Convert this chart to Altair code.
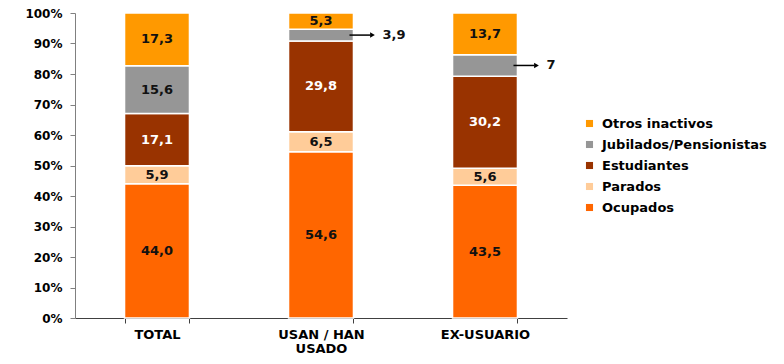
import altair as alt
import pandas as pd

categories = ["TOTAL", "USAN / HAN USADO", "EX-USUARIO"]
series = ["Ocupados", "Parados", "Estudiantes", "Jubilados/Pensionistas", "Otros inactivos"]
colors = ["#FF6600", "#FFCC99", "#993300", "#969696", "#FF9900"]

ocupados = [44.0, 54.6, 43.5]
parados = [5.9, 6.5, 5.6]
estudiantes = [17.1, 29.8, 30.2]
jubilados = [15.6, 3.9, 7]
otros = [17.3, 5.3, 13.7]
jubilados_outside = [False, True, True]
y_ticks = [0, 0.1, 0.2, 0.3, 0.4, 0.5, 0.6, 0.7, 0.8, 0.9, 1.0]

values = [ocupados, parados, estudiantes, jubilados, otros]
rows = []
for si, (s, vals) in enumerate(zip(series, values)):
    for ci, c in enumerate(categories):
        v = vals[ci]
        rows.append({
            "cat": c,
            "serie": s,
            "ord": si,
            "value": v,
            "label": str(v).replace(".", ","),
            "outside": bool(s == "Jubilados/Pensionistas" and jubilados_outside[ci]),
        })
df = pd.DataFrame(rows)

FONT = "DejaVu Sans"

base = (
    alt.Chart(df)
    .transform_stack(
        stack="value", groupby=["cat"], as_=["y0", "y1"],
        sort=[alt.SortField("ord", order="ascending")], offset="normalize",
    )
    .transform_calculate(mid="(datum.y0 + datum.y1) / 2")
)

xaxis = alt.Axis(
    labelAngle=0, tickBand="extent", labelFont=FONT, labelFontSize=13,
    labelFontWeight="bold", labelColor="#000000", domainColor="#404040",
    tickColor="#404040", tickSize=5, labelPadding=5, labelLineHeight=14,
    labelExpr="datum.label == 'USAN / HAN USADO' ? ['USAN / HAN', 'USADO'] : datum.label",
)
yaxis = alt.Axis(
    format=".0%", values=y_ticks, tickCount=11, grid=False,
    labelOverlap=False, labelFont=FONT, labelFontSize=12,
    labelFontWeight="bold", labelColor="#000000",
    domainColor="#808080", tickColor="#808080",
    tickSize=5, labelPadding=8,
)
xscale = alt.Scale(paddingInner=0.604, paddingOuter=0.302)
yscale = alt.Scale(domain=[0, 1], nice=False)

bars = base.mark_bar(stroke="white", strokeWidth=1.5).encode(
    x=alt.X("cat:N", sort=categories, title=None, scale=xscale, axis=xaxis),
    y=alt.Y("y0:Q", title=None, scale=yscale, axis=yaxis),
    y2="y1:Q",
    color=alt.Color(
        "serie:N",
        scale=alt.Scale(domain=series[::-1], range=colors[::-1]),
        legend=alt.Legend(
            title=None, orient="none", legendX=508, legendY=104,
            symbolType="square", symbolSize=50, symbolStrokeWidth=0,
            labelFont=FONT, labelFontSize=13, labelFontWeight="bold",
            labelColor="#000000", rowPadding=7, labelOffset=6, padding=0,
            labelLimit=400,
        ),
    ),
)

xs = alt.X("cat:N", sort=categories, title=None, scale=xscale, axis=xaxis)
ys = alt.Y("mid:Q", title=None, scale=yscale, axis=yaxis)

labels_in = base.transform_filter("!datum.outside").mark_text(
    font=FONT, fontSize=13, fontWeight="bold",
).encode(
    x=xs,
    y=ys,
    text="label:N",
    color=alt.condition(alt.datum.serie == "Estudiantes", alt.value("white"), alt.value("#111111")),
)

out = base.transform_filter("datum.outside")
xe = alt.X("cat:N", sort=categories, bandPosition=1, title=None, scale=xscale, axis=xaxis)

arrow_line = out.mark_rule(color="black", strokeWidth=1.5, xOffset=-4, x2Offset=17).encode(
    x=xe,
    x2=alt.X2("cat:N", bandPosition=1),
    y=ys,
)

arrow_head = out.mark_point(shape="triangle-right", filled=True, color="black", size=30, opacity=1, xOffset=19).encode(
    x=xe,
    y=ys,
)

labels_out = out.mark_text(font=FONT, fontSize=13, fontWeight="bold", align="left", dx=29, color="#111111").encode(
    x=xe,
    y=ys,
    text="label:N",
)

chart = (
    alt.layer(bars, labels_in, arrow_line, arrow_head, labels_out)
    .properties(
        width=492, height=305,
        autosize=alt.AutoSizeParams(type="none"),
        padding={"left": 67, "top": 5, "right": 209, "bottom": 38},
    )
    .configure_view(stroke=None)
    .configure_axis(titleFont=FONT)
)

chart.save("out.html", embed_options={"renderer": "svg", "actions": False})
